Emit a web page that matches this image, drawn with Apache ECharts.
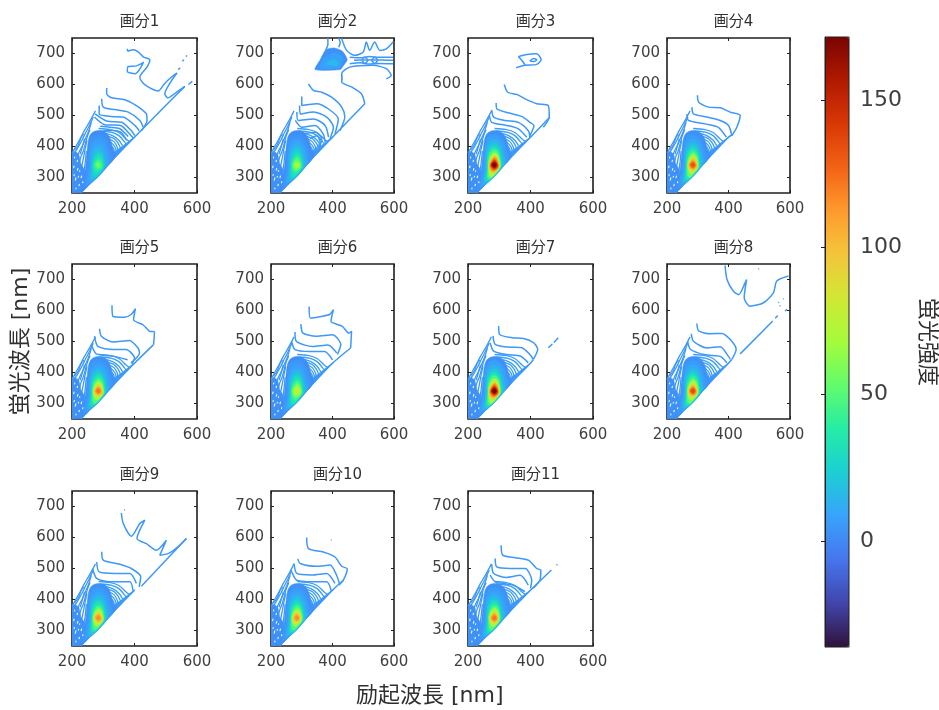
<!DOCTYPE html>
<html><head><meta charset="utf-8">
<style>html,body{margin:0;padding:0;background:#fff}#c{width:939px;height:710px;filter:blur(0.7px)}</style>
<script src="https://cdn.jsdelivr.net/npm/echarts@6/dist/echarts.min.js"></script>
</head><body><div id="c"></div>
<script>
// ---------- values (x: excitation nm, y: emission nm, L: fluorescence intensity) ----------
const panelTitles = ['画分1','画分2','画分3','画分4','画分5','画分6','画分7','画分8','画分9','画分10','画分11'];
const xTicks = [200,400,600];
const yTicks = [300,400,500,600,700];
const colorTicks = [0,50,100,150];
const colorMin = -36, colorMax = 171.4;
const turboStops = ['#30123b','#4145ab','#4675ed','#39a2fc','#1bcfd4','#24eca6','#61fc6c','#a4fc3b','#d1e834','#f3c63a','#fe9b2d','#f36315','#d93806','#b11901','#7a0402'];

// nested intensity contours around the main peak, outer to inner
const coreShapes = [
 [[228,252],[236,290],[243,330],[247,370],[251,410],[258,437],[272,449],[292,451],[310,443],[322,425],[330,395],[338,366],[290,316]],
 [[240,268],[247,320],[251,370],[255,410],[263,430],[280,438],[298,435],[312,420],[320,395],[326,354]],
 [[250,278],[255,330],[256,375],[261,405],[272,420],[285,425],[300,418],[311,398],[317,370],[319,347]],
 [[256,284],[258,330],[260,375],[266,398],[278,410],[290,411],[302,398],[309,375],[313,341]],
 [[262,290],[262,335],[263,370],[270,390],[281,400],[293,396],[302,380],[306,355],[307,335]],
 [[267,296],[264,335],[267,368],[274,383],[283,390],[294,385],[301,368],[304,345],[302,330]],
 [[272,301],[266,335],[270,362],[277,375],[284,380],[294,374],[300,358],[302,338],[296,324]],
 [[277,312],[268,335],[272,358],[279,368],[285,372],[293,366],[298,352],[300,335],[293,322]],
 [[270,335],[274,353],[281,362],[286,365],[293,358],[297,345],[297,333],[289,323],[278,320]],
 [[272,340],[277,351],[284,358],[291,352],[296,340],[293,330],[284,326],[276,330]],
 [[275,342],[279,349],[285,352],[291,347],[293,339],[289,332],[283,330],[277,335]],
 [[278,342],[282,346],[286,347],[289,343],[290,338],[286,334],[282,335],[279,338]]
];
const coreLevels1  = [2,4,7,10,14,19,25,31,37,43,49,55];
const coreLevels2  = [2,4,8,12,18,24,31,39,47,55,63,70];
const coreLevels3  = [3,7,13,21,33,48,68,90,115,135,155,170];
const coreLevels4  = [3,6,11,18,28,40,55,72,90,107,122,132];
const coreLevels5  = [3,6,10,17,26,37,50,66,83,100,113,122];
const coreLevels6  = [2,5,8,13,20,28,37,46,56,65,72,78];
const coreLevels7  = [3,7,13,21,33,48,68,90,115,135,155,170];
const coreLevels8  = [3,6,11,18,28,40,55,72,90,108,124,135];
const coreLevels9  = [3,6,10,16,25,35,47,62,78,93,106,115];
const coreLevels10 = [3,6,10,16,25,35,47,62,78,93,106,115];
const coreLevels11 = [3,6,10,17,26,37,50,66,83,100,113,122];

const fanFill = [[200,250],[232,252],[243,290],[240,325],[228,345],[222,375],[210,385],[200,378]];
const ridgeWedge = [[330,358],[338,385],[360,400],[385,420],[402,432],[340,368]];
const fanLines = [
 [[200,378],[212,400],[226,425],[240,452],[252,472],[262,490],[275,515]],
 [[205,375],[218,395],[232,420],[244,445],[256,468],[268,495]],
 [[214,360],[224,385],[236,408],[246,432],[254,452],[262,478]],
 [[222,340],[228,365],[236,385],[243,410],[250,435],[258,455]],
 [[228,320],[233,345],[238,370],[242,392],[248,420]],
 [[236,305],[240,330],[243,355],[246,385]],
 [[208,388],[220,405],[230,430],[238,440]],
 [[226,375],[232,395],[240,425]]
];
const fanGaps = [
 [[210,290],[213,300]],[[222,272],[224,279]],[[205,330],[207,338]],[[229,298],[231,306]],
 [[217,322],[219,330]],[[212,262],[213,267]],[[224,318],[225,323]],[[206,305],[208,311]],
 [[216,350],[218,357]],[[234,282],[235,288]],[[220,300],[221,305]],[[208,362],[209,367]]
];
const innerArcs = [
 [[285,458],[320,455],[350,445],[372,425],[385,415]],
 [[290,450],[325,446],[350,435],[368,415],[375,405]],
 [[300,445],[330,435],[350,420],[362,402]],
 [[310,435],[335,425],[348,410],[355,395]],
 [[318,425],[335,415],[344,400],[348,385]],
 [[322,415],[333,405],[340,392],[342,378]],
 [[326,403],[332,395],[335,385],[335,372]]
];

const contours1 = [
 [[377,715],[378,708],[396,712],[412,705],[428,689],[449,680],[440,656],[417,624],[428,604],[449,589],[476,579],[494,600],[518,624],[536,637]],
 [[536,637],[518,612],[497,570],[507,557],[534,575],[561,594]],
 [[428,670],[402,635],[377,642],[380,658],[406,660],[430,672]],
 [[540,648],[546,654]],[[553,675],[558,680]],[[565,690],[568,694]],[[572,600],[585,610]],
 [[311,589],[311,570],[327,557],[369,551],[406,532],[438,505],[440,484],[422,451]],
 [[295,554],[300,527],[337,519],[380,511],[417,484],[428,462]],
 [[287,532],[287,505],[327,497],[364,495],[401,468],[415,451]],
 [[274,505],[311,482],[359,478],[390,451],[401,435]],
 [[272,495],[305,470],[355,468],[385,440],[395,428]],
 [[290,465],[320,462],[352,458],[380,432]],
 [[300,452],[330,452],[358,445],[375,420]],
 [[228,250],[340,368],[400,430],[480,512],[561,594]]
];
const contours2 = [
 [[378,712],[385,730],[385,750]],[[420,720],[425,735],[420,750]],
 [[430,748],[446,710],[473,694],[500,705],[510,737],[521,710],[537,737],[554,710],[575,715],[597,737]],
 [[456,688],[490,686],[520,690],[550,688],[597,688]],
 [[456,667],[490,670],[520,666],[550,668],[597,667]],
 [[495,678],[505,688],[515,678],[505,668],[495,678]],
 [[527,678],[537,688],[547,678],[537,668],[527,678]],
 [[470,678],[490,679],[560,679],[597,678]],
 [[430,613],[430,635],[456,656],[532,662],[575,651],[591,629],[575,618]],
 [[430,629],[430,608],[462,592],[494,570],[505,538]],
 [[322,602],[338,581],[365,575],[397,559],[430,527],[440,495],[424,451]],
 [[300,561],[300,532],[349,538],[387,521],[419,489],[408,441]],
 [[293,532],[295,505],[338,511],[381,495],[403,462],[392,425]],
 [[284,511],[289,484],[338,489],[376,468],[387,430]],
 [[279,484],[300,462],[343,468],[370,440],[376,414]],
 [[306,441],[343,446],[365,425],[354,387]],
 [[327,425],[349,435],[360,414],[333,381]],
 [[228,250],[340,368],[400,430],[505,538]]
];
const blob2 = [
 [3,[[343,648],[360,680],[378,712],[405,718],[432,708],[448,680],[435,660],[425,648]]],
 [8,[[358,652],[372,685],[405,702],[432,690],[425,655]]],
 [16,[[378,665],[395,680],[420,675],[415,660]]]
];
const contours3 = [
 [[316,600],[327,575],[356,568],[388,551],[420,538],[457,532],[460,495],[441,462]],
 [[290,540],[292,522],[335,507],[372,497],[398,478],[411,468],[398,435]],
 [[276,518],[282,495],[319,484],[361,478],[393,451],[398,430]],
 [[269,500],[276,478],[324,468],[361,457],[388,430]],
 [[361,690],[388,697],[420,699],[434,680],[420,665],[383,662],[354,654]],
 [[361,690],[372,678],[383,662]],
 [[398,676],[410,684],[420,680],[412,674],[398,676]],
 [[228,250],[340,368],[400,430],[462,495]]
];
const contours4 = [
 [[299,565],[303,543],[335,527],[373,525],[405,511],[438,500],[427,462],[411,435]],
 [[281,527],[286,505],[330,495],[373,484],[400,468],[411,435]],
 [[265,505],[270,484],[324,473],[367,462],[393,430]],
 [[228,250],[340,368],[400,430],[411,437]]
];
const contours5 = [
 [[328,617],[331,581],[368,578],[389,587],[403,606],[397,570],[427,554],[448,533],[464,531],[461,490]],
 [[288,541],[294,517],[331,498],[384,503],[411,479],[416,463],[389,431]],
 [[272,517],[283,484],[331,474],[373,474],[400,447],[392,428]],
 [[262,490],[278,460],[336,452],[378,441]],
 [[228,250],[340,368],[400,430],[461,490]]
];
const contours6 = [
 [[324,613],[328,576],[363,581],[390,587],[403,603],[395,565],[432,549],[453,527],[462,533],[459,479]],
 [[297,556],[304,527],[347,517],[400,522],[427,490],[416,458]],
 [[278,531],[283,500],[336,484],[385,489],[414,463]],
 [[267,500],[278,474],[326,468],[374,468],[400,441]],
 [[228,250],[340,368],[400,430],[459,479]]
];
const contours7 = [
 [[298,550],[301,523],[341,512],[378,510],[410,496],[423,475],[409,442]],
 [[280,518],[287,491],[329,482],[372,480],[398,458],[409,442]],
 [[271,496],[282,469],[324,458],[367,453],[393,431]],
 [[457,480],[470,492]],[[475,497],[489,512]],
 [[228,250],[340,368],[400,430],[409,442]]
];
const contours8 = [
 [[297,558],[303,534],[340,525],[378,526],[405,507],[425,475],[411,442]],
 [[279,525],[286,501],[330,479],[373,483],[400,452],[406,442]],
 [[267,501],[276,475],[324,457],[373,452],[395,431]],
 [[438,460],[544,566]],[[552,575],[560,584]],
 [[389,745],[395,700],[416,662],[433,651],[454,689],[459,700],[451,641],[470,614],[514,625],[546,657],[557,695],[595,711]],
 [[497,733],[499,735]],[[562,625],[564,627]],[[578,636],[580,638]],[[567,614],[569,616]],[[584,598],[590,604]],
 [[228,250],[340,368],[400,430],[411,442]]
];
const contours9 = [
 [[367,688],[369,690]],
 [[358,679],[364,645],[390,604],[417,645],[433,656],[408,597],[438,580],[470,559],[502,591],[481,543],[507,548],[539,570],[566,597]],
 [[422,443],[566,597]],
 [[295,554],[300,527],[353,514],[390,500],[420,473],[415,441]],
 [[279,521],[287,489],[337,484],[385,484],[406,452]],
 [[266,500],[279,468],[321,457],[385,457],[396,425]],
 [[228,250],[340,368],[400,430]]
];
const contours10 = [
 [[395,591],[397,593]],
 [[316,600],[322,564],[370,553],[408,537],[430,507],[448,499],[435,462],[420,448]],
 [[287,531],[295,516],[349,507],[392,511],[413,479],[424,446]],
 [[275,516],[284,484],[333,479],[381,484],[408,452]],
 [[268,489],[284,462],[333,457],[381,457],[397,425]],
 [[228,250],[340,368],[400,430],[435,462]]
];
const contours11 = [
 [[306,575],[311,543],[351,535],[393,527],[420,500],[433,495],[430,462],[409,436]],
 [[287,532],[292,505],[335,500],[383,500],[404,462],[400,436]],
 [[276,514],[282,484],[324,471],[367,478],[393,446]],
 [[271,479],[287,457],[345,446],[382,425]],
 [[483,511],[486,513]],
 [[228,250],[340,368],[400,430],[467,495]]
];
const panelContours = [contours1,contours2,contours3,contours4,contours5,contours6,contours7,contours8,contours9,contours10,contours11];
const panelLevels = [coreLevels1,coreLevels2,coreLevels3,coreLevels4,coreLevels5,coreLevels6,coreLevels7,coreLevels8,coreLevels9,coreLevels10,coreLevels11];

// ---------- layout ----------
const colLeft = [72,271,468,667], colWidth = [125,123,125,123];
const rowTop = [38,264,491], rowHeight = 155;
const ink = '#202020', textCol = '#404040';
const font = '"DejaVu Sans","Noto Sans CJK JP",sans-serif';

function turbo(v){
  const t = Math.max(0,Math.min(1,(v-colorMin)/(colorMax-colorMin)))*(turboStops.length-1);
  const i = Math.min(turboStops.length-2,Math.floor(t)), f=t-i;
  const h=s=>[1,3,5].map(k=>parseInt(s.substr(k,2),16));
  const a=h(turboStops[i]),b=h(turboStops[i+1]);
  return 'rgb('+a.map((x,k)=>Math.round(x+(b[k]-x)*f)).join(',')+')';
}

const grids=[],xAxes=[],yAxes=[],titles=[],series=[];
panelTitles.forEach((name,i)=>{
  const c=i%4,r=Math.floor(i/4);
  grids.push({left:colLeft[c],top:rowTop[r],width:colWidth[c],height:rowHeight,show:true,borderColor:ink,borderWidth:1.6,backgroundColor:'#fff',containLabel:false});
  titles.push({text:name,left:colLeft[c]+colWidth[c]/2,top:rowTop[r]-28,textAlign:'center',textStyle:{fontFamily:font,fontSize:15,fontWeight:'normal',color:'#303030'}});
  const xa=xAxes.length, ya=yAxes.length;
  const xBase={type:'value',gridIndex:i,min:200,max:600,splitLine:{show:false},axisLine:{show:false}};
  const yBase={type:'value',gridIndex:i,min:250,max:750,splitLine:{show:false},axisLine:{show:false}};
  xAxes.push(Object.assign({},xBase,{position:'bottom',interval:200,
    axisTick:{inside:true,length:3,lineStyle:{color:ink}},
    axisLabel:{margin:9,fontFamily:font,fontSize:15,color:textCol}}));
  xAxes.push(Object.assign({},xBase,{position:'top',interval:200,
    axisTick:{inside:true,length:3,lineStyle:{color:ink}},axisLabel:{show:false}}));
  const yMain=Object.assign({},yBase,{position:'left',
    axisTick:{inside:true,length:3,customValues:yTicks,lineStyle:{color:ink}},
    axisLabel:{margin:7,customValues:yTicks,fontFamily:font,fontSize:15,color:textCol}});
  if(i===4){Object.assign(yMain,{name:'蛍光波長 [nm]',nameLocation:'middle',nameGap:37,nameTextStyle:{fontFamily:font,fontSize:22,color:'#303030'}});}
  yAxes.push(yMain);
  yAxes.push(Object.assign({},yBase,{position:'right',
    axisTick:{inside:true,length:3,customValues:yTicks,lineStyle:{color:ink}},axisLabel:{show:false}}));

  const addLine=(pts,level,width,z,color)=>series.push({type:'line',xAxisIndex:xa,yAxisIndex:ya,data:pts,showSymbol:false,silent:true,animation:false,z,smooth:0.25,
    lineStyle:{width,color:color||turbo(level)},itemStyle:{color:color||turbo(level)}});

  const polys=[];
  polys.push({level:3,pts:fanFill,smooth:0});
  polys.push({level:5,pts:ridgeWedge,smooth:0});
  if(i===1) blob2.forEach(b=>polys.push({level:b[0],pts:b[1],smooth:0.2}));
  coreShapes.forEach((s,k)=>polys.push({level:panelLevels[i][k],pts:s,smooth:0.4}));
  series.push({type:'custom',xAxisIndex:xa,yAxisIndex:ya,silent:true,animation:false,clip:true,z:2,
    data:polys.map(p=>[p.pts[0][0],p.pts[0][1],p.level]),
    encode:{x:0,y:1},
    renderItem:(params,api)=>{
      const p=polys[params.dataIndex];
      return {type:'polygon',shape:{points:p.pts.map(q=>api.coord(q)),smooth:p.smooth},style:{fill:turbo(p.level),stroke:turbo(p.level),lineWidth:0.5}};
    }});
  fanLines.forEach(l=>addLine(l,5,1.3,1));
  innerArcs.forEach(l=>addLine(l,7,1.3,1));
  panelContours[i].forEach(l=>addLine(l,5,1.5,1));
  fanGaps.forEach(l=>addLine(l,0,1.1,3,'#eef5ff'));
});

// colour bar
const cbIdx=panelTitles.length;
grids.push({left:825,top:37,width:24,height:610,show:false,z:6});
xAxes.push({type:'value',gridIndex:cbIdx,show:false,min:0,max:1});
yAxes.push({type:'value',gridIndex:cbIdx,position:'right',min:colorMin,max:colorMax,z:6,splitLine:{show:false},
  axisLine:{show:true,lineStyle:{color:ink,width:1}},
  axisTick:{inside:true,length:4,customValues:colorTicks,lineStyle:{color:ink}},
  axisLabel:{margin:11,customValues:colorTicks,fontFamily:font,fontSize:22,color:textCol},
  name:'蛍光強度',nameLocation:'middle',nameRotate:-90,nameGap:67,nameTextStyle:{fontFamily:font,fontSize:22,color:'#303030'}});
series.push({type:'line',xAxisIndex:xAxes.length-1,yAxisIndex:yAxes.length-1,data:[],silent:true});

const chart=echarts.init(document.getElementById('c'),null,{renderer:'canvas',width:939,height:710});
chart.setOption({
  animation:false,backgroundColor:'#fff',
  title:titles,grid:grids,xAxis:xAxes,yAxis:yAxes,series,
  visualMap:[{type:'continuous',seriesIndex:series.length-1,min:colorMin,max:colorMax,calculable:false,show:true,showLabel:false,
    left:825,top:37,itemWidth:24,itemHeight:610,text:['',''],padding:0,z:1,realtime:false,hoverLink:false,
    inRange:{color:turboStops},borderColor:ink,borderWidth:0}],
  graphic:[{type:'text',left:356,top:685,style:{text:'励起波長 [nm]',fontFamily:font,fontSize:22,fill:'#303030'}},
    {type:'rect',shape:{x:825,y:37,width:24,height:610},style:{fill:'none',stroke:ink,lineWidth:1},z:10,silent:true}]
});
</script></body></html>
